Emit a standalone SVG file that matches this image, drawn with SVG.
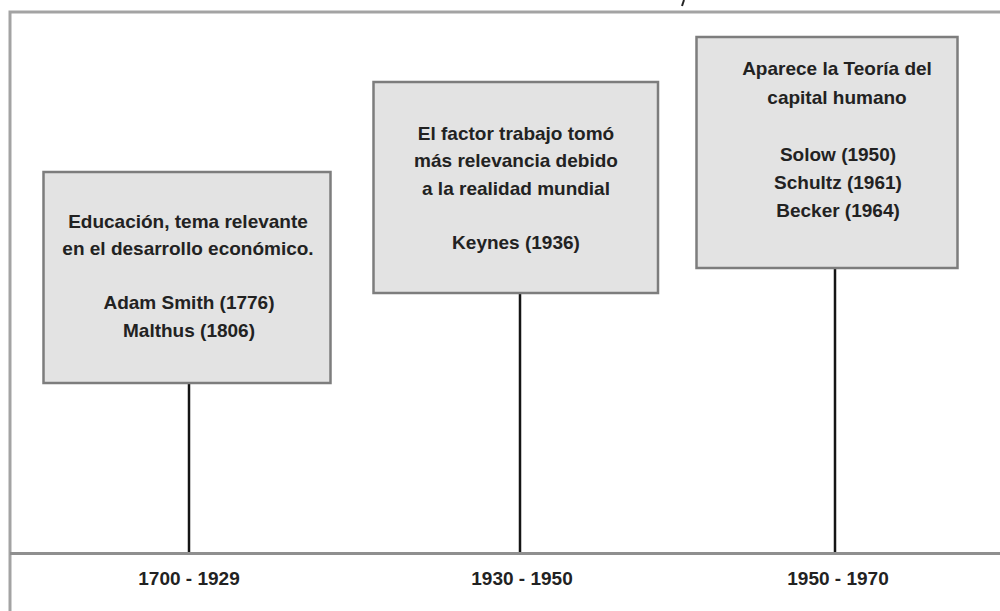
<svg xmlns="http://www.w3.org/2000/svg" width="1000" height="611" viewBox="0 0 1000 611">
<style>
.frame{fill:none;stroke:#a3a3a3;stroke-width:3}
.axis{stroke:#8f8f8f;stroke-width:3}
.box{fill:#e3e3e3;stroke:#7d7d7d;stroke-width:2.5}
.stem{stroke:#151515;stroke-width:2.5}
text{font-family:"Liberation Sans",Arial,sans-serif;font-weight:bold;font-size:19px;fill:#222;text-anchor:middle}
</style>
<rect x="0" y="0" width="1000" height="611" fill="#ffffff"/>
<path class="frame" d="M10,611 V12 H1000"/>
<line x1="684" y1="0" x2="682" y2="6" stroke="#222" stroke-width="2"/>
<g id="connectors">
<line class="axis" x1="10" y1="553.5" x2="1000" y2="553.5"/>
<line class="stem" x1="189" y1="383" x2="189" y2="552"/>
<line class="stem" x1="520" y1="293" x2="520" y2="552"/>
<line class="stem" x1="835" y1="268" x2="835" y2="552"/>
</g>
<g id="node1">
<rect class="box" x="43.5" y="172" width="287" height="211"/>
<text x="188" y="227.5">Educación, tema relevante</text>
<text x="188" y="255">en el desarrollo económico.</text>
<text x="189" y="309">Adam Smith (1776)</text>
<text x="189" y="336.5">Malthus (1806)</text>
</g>
<g id="node2">
<rect class="box" x="373.5" y="82" width="284.5" height="211"/>
<text x="516" y="139.5">El factor trabajo tomó</text>
<text x="516" y="167">más relevancia debido</text>
<text x="516" y="194.5">a la realidad mundial</text>
<text x="516" y="249">Keynes (1936)</text>
</g>
<g id="node3">
<rect class="box" x="696.5" y="37" width="261" height="231"/>
<text x="837" y="75">Aparece la Teoría del</text>
<text x="837" y="103.5">capital humano</text>
<text x="838" y="160.5">Solow (1950)</text>
<text x="838" y="189">Schultz (1961)</text>
<text x="838" y="217">Becker (1964)</text>
</g>
<g id="labels">
<text x="189" y="585">1700 - 1929</text>
<text x="522" y="585">1930 - 1950</text>
<text x="838" y="585">1950 - 1970</text>
</g>
</svg>
